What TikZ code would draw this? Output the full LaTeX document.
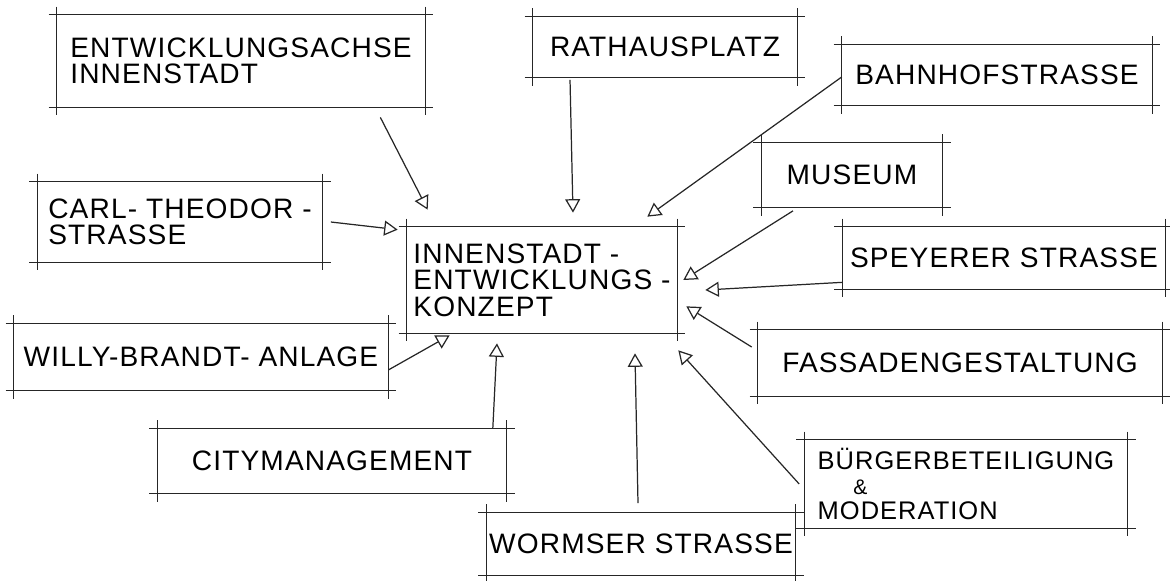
\documentclass[tikz,border=0pt]{standalone}
\usepackage{fontspec}
\setmainfont[LetterSpace=4]{Liberation Sans}
\usetikzlibrary{arrows.meta}

\begin{document}
\begin{tikzpicture}[x=0.02cm, y=-0.02cm,
	kasten/.style = {inner sep=0pt, align=left, font=\fontsize{16}{15}\selectfont},
	pfeil/.style = {line width=0.7pt, draw=black!85, -{Triangle[open, length=0.27cm, width=0.3cm, line width=0.7pt]}}]
	\useasboundingbox (0,0) rectangle (1170,581);

	% boxes
	\node[kasten, minimum width=7.36cm, minimum height=1.84cm] (entw) at (241,61)  {ENTWICKLUNGSACHSE\\INNENSTADT};
	\node[kasten, minimum width=5.28cm, minimum height=1.22cm] (rath) at (665,47)  {RATHAUSPLATZ};
	\node[kasten, minimum width=6.20cm, minimum height=1.22cm] (bahn) at (997,75)  {BAHNHOFSTRASSE};
	\node[kasten, minimum width=3.62cm, minimum height=1.30cm] (mus)  at (852,175) {MUSEUM};
	\node[kasten, minimum width=5.70cm, minimum height=1.60cm] (carl) at (180,222) {CARL- THEODOR -\\STRASSE};
	\node[kasten, minimum width=5.40cm, minimum height=2.12cm] (kern) at (542,280) {INNENSTADT -\\ENTWICKLUNGS -\\KONZEPT};
	\node[kasten, minimum width=6.46cm, minimum height=1.24cm] (spey) at (1004,258) {SPEYERER STRASSE};
	\node[kasten, minimum width=7.48cm, minimum height=1.34cm] (will) at (201,357) {WILLY-BRANDT- ANLAGE};
	\node[kasten, minimum width=8.08cm, minimum height=1.32cm] (fass) at (960,363) {FASSADENGESTALTUNG};
	\node[kasten, minimum width=6.98cm, minimum height=1.30cm] (city) at (332,461) {CITYMANAGEMENT};
	\node[kasten, minimum width=6.46cm, minimum height=1.76cm, font=\fontsize{14.5}{14}\selectfont] (buer) at (966,484)
		{BÜRGERBETEILIGUNG\\\hspace{1.4em}{\fontsize{12}{12}\selectfont\&}\\MODERATION};
	\node[kasten, minimum width=6.18cm, minimum height=1.26cm] (worm) at (641,544) {WORMSER STRASSE};

	% frames with overhanging corners
	\foreach \n in {entw, rath, bahn, mus, carl, kern, spey, will, fass, city, buer, worm}
	{
		\draw[line width=0.7pt, black!85] ([xshift=-0.16cm]\n.north west) -- ([xshift=0.16cm]\n.north east);
		\draw[line width=0.7pt, black!85] ([xshift=-0.16cm]\n.south west) -- ([xshift=0.16cm]\n.south east);
		\draw[line width=0.7pt, black!85] ([yshift=0.16cm]\n.north west) -- ([yshift=-0.16cm]\n.south west);
		\draw[line width=0.7pt, black!85] ([yshift=0.16cm]\n.north east) -- ([yshift=-0.16cm]\n.south east);
	}

	% arrows into the concept
	\draw[pfeil] ([xshift=-0.9cm, yshift=-0.2cm]entw.south east) -- ([xshift=0.42cm, yshift=0.34cm]kern.north west);
	\draw[pfeil] ([xshift=-1.9cm, yshift=-0.04cm]rath.south) -- ([xshift=0.62cm, yshift=0.28cm]kern.north);
	\draw[pfeil] ([yshift=-0.04cm]bahn.west) -- ([xshift=-0.6cm, yshift=0.2cm]kern.north east);
	\draw[pfeil] ([xshift=-1.18cm, yshift=-0.06cm]mus.south) -- ([xshift=0.12cm]kern.east);
	\draw[pfeil] ([yshift=0.14cm]spey.south west) -- ([xshift=0.56cm, yshift=-0.2cm]kern.east);
	\draw[pfeil] ([xshift=-0.12cm, yshift=0.32cm]fass.west) -- ([xshift=0.18cm, yshift=0.54cm]kern.south east);
	\draw[pfeil] ([xshift=-0.1cm]buer.west) -- ([xshift=0.02cm, yshift=-0.34cm]kern.south east);
	\draw[pfeil] ([xshift=-0.06cm, yshift=0.18cm]worm.north) -- ([xshift=1.86cm, yshift=-0.4cm]kern.south);
	\draw[pfeil] ([xshift=-0.28cm]city.north east) -- ([xshift=-0.9cm, yshift=-0.2cm]kern.south);
	\draw[pfeil] ([yshift=-0.26cm]will.east) -- ([xshift=0.86cm, yshift=-0.04cm]kern.south west);
	\draw[pfeil] ([xshift=0.16cm]carl.east) -- ([xshift=-0.18cm, yshift=-0.06cm]kern.north west);

\end{tikzpicture}
\end{document}
